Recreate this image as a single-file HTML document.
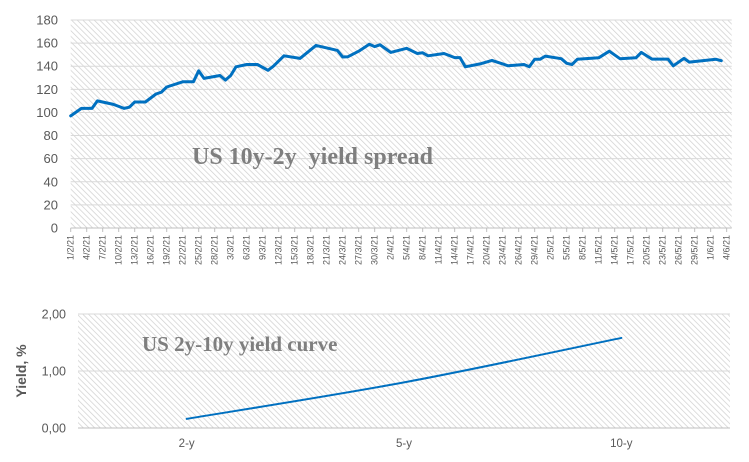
<!DOCTYPE html>
<html><head><meta charset="utf-8">
<style>
html,body{margin:0;padding:0;background:#fff;}
svg{display:block;font-family:"Liberation Sans",sans-serif;}
</style></head>
<body>
<svg id="chart" width="749" height="462" viewBox="0 0 749 462" xmlns="http://www.w3.org/2000/svg">
<defs>
<pattern id="hatch" patternUnits="userSpaceOnUse" width="4" height="4" patternTransform="rotate(-45)">
<rect width="4" height="4" fill="#ffffff"/>
<line x1="0" y1="0" x2="0" y2="4" stroke="#cfcfcf" stroke-width="1.4"/>
</pattern>
</defs>
<g id="topChart"></g>
<g id="botChart"></g>
</svg>
<script>
// ---- Top chart data ----
const spreadDays = [0,2,4,5,8,10,11,12,14,16,17,18,21,23,24,25,28,29,30,31,33,35,37,38,40,43,46,50,51,52,54,56,57,58,60,63,65,66,67,70,72,73,74,77,79,81,82,85,86,87,88,89,92,93,94,95,99,101,103,106,107,109,112,113,115,116,121,122];
const spreadValues = [97,103.5,103.5,110,107,103.5,104.5,109,109,116,117.5,122,126.5,126.5,136,129.5,132,128,132,139.5,141.5,141.5,136.5,140,149,146.8,158,153.7,148,148.2,153,159,157,158.5,152,155.5,151,151.6,149,151,147.5,147.5,139.5,142.3,145,142,140.4,141.5,139.5,146,146,148.8,146.5,142.5,141.5,146,147.3,153,146.5,147.3,152,146.2,146.2,140.4,146.8,143.6,146,144.8];
const spreadTicks = [0,20,40,60,80,100,120,140,160,180];
const dateLabels = ["1/2/21","4/2/21","7/2/21","10/2/21","13/2/21","16/2/21","19/2/21","22/2/21","25/2/21","28/2/21","3/3/21","6/3/21","9/3/21","12/3/21","15/3/21","18/3/21","21/3/21","24/3/21","27/3/21","30/3/21","2/4/21","5/4/21","8/4/21","11/4/21","14/4/21","17/4/21","20/4/21","23/4/21","26/4/21","29/4/21","2/5/21","5/5/21","8/5/21","11/5/21","14/5/21","17/5/21","20/5/21","23/5/21","26/5/21","29/5/21","1/6/21","4/6/21"];
// ---- Bottom chart data ----
const tenors = ["2-y","5-y","10-y"];
const yields = [0.16,0.80,1.58];
const yieldTicks = ["0,00","1,00","2,00"];

const NS="http://www.w3.org/2000/svg";
function mk(tag,attrs,parent,text){const e=document.createElementNS(NS,tag);for(const k in attrs)e.setAttribute(k,attrs[k]);if(text!==undefined)e.textContent=text;parent.appendChild(e);return e;}

// Top chart
const topG=document.getElementById('topChart');
const L1=70.7,R1=731.7,T1=20,B1=228,dayPx=5.333;
const x1=d=>L1+d*dayPx, y1=v=>B1-(v/180)*(B1-T1);
let bg=mk('rect',{x:L1,y:T1,width:R1-L1,height:B1-T1,fill:'url(#hatch)'},topG);


spreadTicks.forEach(t=>{
  if(t>0){let g=mk('line',{x1:L1,x2:R1,y1:y1(t),y2:y1(t),stroke:'#d9d9d9','stroke-width':1},topG);
  
  }
  let tx=mk('text',{x:58,y:y1(t)+4.5,'text-anchor':'end','font-size':13,fill:'#595959'},topG,String(t));
  
  
});
let ax=mk('line',{x1:L1,x2:R1,y1:B1,y2:B1,stroke:'#bfbfbf','stroke-width':1},topG);


dateLabels.forEach((lb,i)=>{
  const x=x1(i*3);
  let tk=mk('line',{x1:x,x2:x,y1:B1,y2:B1+4,stroke:'#bfbfbf'},topG);
  
  
  let t=mk('text',{x:0,y:0,'text-anchor':'end','font-size':9,fill:'#595959',transform:`translate(${x+3},${B1+7}) rotate(-90)`},topG,lb);
  
  
});
let pts=spreadDays.map((d,i)=>x1(d).toFixed(1)+','+y1(spreadValues[i]).toFixed(1)).join(' ');
let pl=mk('polyline',{points:pts,fill:'none',stroke:'#0070c0','stroke-width':3,'stroke-linejoin':'round','stroke-linecap':'round'},topG);


let tt=mk('text',{x:192,y:164,'font-size':24,'font-weight':'bold','font-family':'"Liberation Serif",serif',fill:'#7f7f7f',style:'white-space:pre'},topG,'US 10y-2y  yield spread');



// Bottom chart
const botG=document.getElementById('botChart');
const L2=78,R2=730,T2=314,B2=428;
const cw=(R2-L2)/tenors.length;
const x2=i=>L2+cw*(i+0.5), y2=v=>B2-(v/2)*(B2-T2);
let bg2=mk('rect',{x:L2,y:T2,width:R2-L2,height:B2-T2,fill:'url(#hatch)'},botG);


yieldTicks.forEach((lb,i)=>{
  const v=i;
  let g=mk('line',{x1:L2,x2:R2,y1:y2(v),y2:y2(v),stroke:i==0?'#bfbfbf':'#d9d9d9','stroke-width':1},botG);
  
  
  let t=mk('text',{x:66,y:y2(v)+4.5,'text-anchor':'end','font-size':12.5,fill:'#595959'},botG,lb);
  
  
});
tenors.forEach((lb,i)=>{
  let t=mk('text',{x:x2(i),y:447,'text-anchor':'middle','font-size':11.5,fill:'#595959'},botG,lb);
  
  
});
let yt=mk('text',{x:0,y:0,'text-anchor':'middle','font-size':14,'font-weight':'bold',fill:'#595959',transform:'translate(26,371) rotate(-90)'},botG,'Yield, %');


const P=tenors.map((_,i)=>[x2(i),y2(yields[i])]);
let d='M'+P[0][0]+','+P[0][1];
for(let i=0;i<P.length-1;i++){
  const p0=P[Math.max(i-1,0)],p1=P[i],p2=P[i+1],p3=P[Math.min(i+2,P.length-1)];
  const c1=[p1[0]+(p2[0]-p0[0])/6,p1[1]+(p2[1]-p0[1])/6];
  const c2=[p2[0]-(p3[0]-p1[0])/6,p2[1]-(p3[1]-p1[1])/6];
  d+=` C${c1[0]},${c1[1]} ${c2[0]},${c2[1]} ${p2[0]},${p2[1]}`;
}
let cv=mk('path',{d:d,fill:'none',stroke:'#0070c0','stroke-width':2,'stroke-linecap':'round'},botG);


let t2=mk('text',{x:142,y:351,'font-size':21,'font-weight':'bold','font-family':'"Liberation Serif",serif',fill:'#7f7f7f'},botG,'US 2y-10y yield curve');


</script>
</body></html>
